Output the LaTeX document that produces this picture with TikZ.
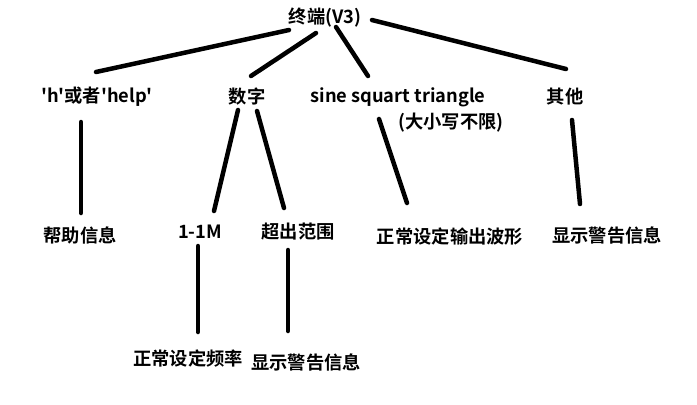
\documentclass[tikz,border=0pt]{standalone}
\usepackage{fontspec}
\setmainfont{Noto Sans CJK SC}[BoldFont={Noto Sans CJK SC Bold}]
\usetikzlibrary{calc}

\begin{document}
\begin{tikzpicture}[x=0.025cm,y=-0.025cm,
    lbl/.style={inner sep=0pt,font=\bfseries\fontsize{13}{15}\selectfont},
    branch/.style={line width=3.2pt,line cap=round}]
      \useasboundingbox (0,0) rectangle (697,404);
      % top
      \node[lbl] (root) at (325,18) {终端(V3)};
      % first level
      \node[lbl] (help)  at (97,97)  {\textquotesingle h\textquotesingle 或者\textquotesingle help\textquotesingle};
      \node[lbl] (num)   at (247,97) {数字};
      \node[lbl] (sine)  at (398,97) {sine squart triangle};
      \node[lbl] (case)  at (451,123) {(大小写不限)};
      \node[lbl] (other) at (565,97) {其他};
      % second level
      \node[lbl] (helpinfo) at (80,235)  {帮助信息};
      \node[lbl] (range)    at (200,232) {1-1M};
      \node[lbl] (over)     at (298,232) {超出范围};
      \node[lbl] (wave)     at (450,237) {正常设定输出波形};
      \node[lbl] (warn)     at (607,235) {显示警告信息};
      % third level
      \node[lbl] (freq)  at (188,358) {正常设定频率};
      \node[lbl] (warnb) at (306,362) {显示警告信息};

      % root branches
      \draw[branch] ($(root)+(-36,12)$) -- ($(help)+(-1,-25)$);
      \draw[branch] ($(root)+(-9,15)$)  -- ($(num)+(4,-21)$);
      \draw[branch] ($(root)+(11,9)$)   -- ($(sine)+(-30,-21)$);
      \draw[branch] ($(root)+(47,2)$)   -- ($(other)+(1,-28)$);
      % second branches
      \draw[branch] ($(help)+(-16,25)$) -- ($(helpinfo)+(1,-22)$);
      \draw[branch] ($(num)+(-9,13)$)   -- ($(range)+(14,-21)$);
      \draw[branch] ($(num)+(10,14)$)   -- ($(over)+(-14,-24)$);
      \draw[branch] ($(sine)+(-19,22)$) -- ($(wave)+(-43,-34)$);
      \draw[branch] ($(other)+(7,23)$)  -- ($(warn)+(-27,-31)$);
      % third branches
      \draw[branch] ($(range)+(-2,14)$) -- ($(freq)+(10,-26)$);
      \draw[branch] ($(over)+(-10,18)$) -- ($(warnb)+(-18,-31)$);
\end{tikzpicture}
\end{document}
